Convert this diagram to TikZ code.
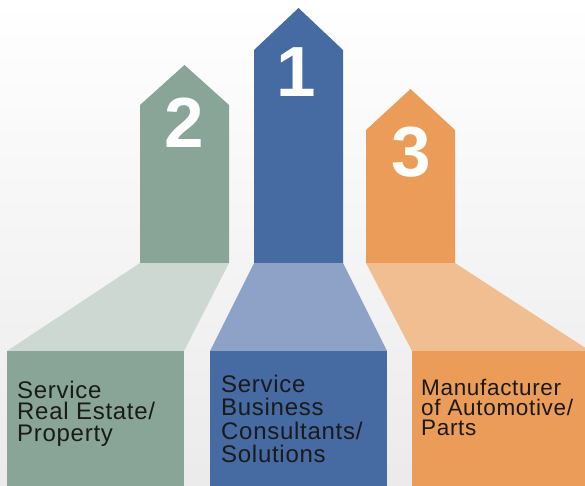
\documentclass[tikz,border=0pt]{standalone}
\usepackage{fontspec}
\setmainfont{Liberation Sans}
\definecolor{gDark}{HTML}{88A598}
\definecolor{gLight}{HTML}{CDD8D2}
\definecolor{bDark}{HTML}{466AA2}
\definecolor{bLight}{HTML}{8EA2C8}
\definecolor{oDark}{HTML}{EB9C58}
\definecolor{oLight}{HTML}{F0BE91}
\definecolor{txt}{HTML}{1A1A1A}
\begin{document}
\begin{tikzpicture}[x=1pt,y=-1pt,
  num/.style={inner sep=0pt, anchor=base, text=white, font=\fontsize{71}{71}\selectfont\bfseries},
  lbl/.style={inner sep=0pt, anchor=base west, text=txt, font=\fontsize{24}{24}\selectfont\addfontfeature{LetterSpace=3}}]
\useasboundingbox (0,0) rectangle (585,486);
\clip (0,0) rectangle (585,486);
\shade[top color=white, bottom color=black!8] (0,0) rectangle (585,486);
% columns
\fill[gDark] (140,263) -- (140,105) -- (184.5,65) -- (229,105) -- (229,263) -- cycle;
\fill[bDark] (254,263) -- (254,50) -- (298.5,8) -- (343,50) -- (343,263) -- cycle;
\fill[oDark] (366,263) -- (366,130) -- (410.5,89) -- (455,130) -- (455,263) -- cycle;
% trapezoids
\fill[gLight] (140,263) -- (229,263) -- (184,351) -- (7,351) -- cycle;
\fill[bLight] (254,263) -- (343,263) -- (387,351) -- (210,351) -- cycle;
\fill[oLight] (366,263) -- (455,263) -- (590,351) -- (412,351) -- cycle;
% boxes
\fill[gDark] (7,351) rectangle (184,490);
\fill[bDark] (210,351) rectangle (387,490);
\fill[oDark] (412,351) rectangle (590,490);
% numbers
\node[num] (n2) at (184.5,148) {2};
\node[num] (n1) at (296,97) {1};
\node[num] (n3) at (411.5,177) {3};
% labels
\node[lbl] (t2) at (17,398) {\vtop{\baselineskip=21.5pt\hbox{Service}\hbox{Real Estate/}\hbox{Property}}};
\node[lbl] (t1) at (221,392) {\vtop{\baselineskip=23.5pt\hbox{Service}\hbox{Business}\hbox{Consultants/}\hbox{Solutions}}};
\node[lbl, font=\fontsize{22.5}{22.5}\selectfont\addfontfeature{LetterSpace=3}] (t3) at (421,395) {\vtop{\baselineskip=20pt\hbox{Manufacturer}\hbox{of Automotive/}\hbox{Parts}}};
\end{tikzpicture}
\end{document}
